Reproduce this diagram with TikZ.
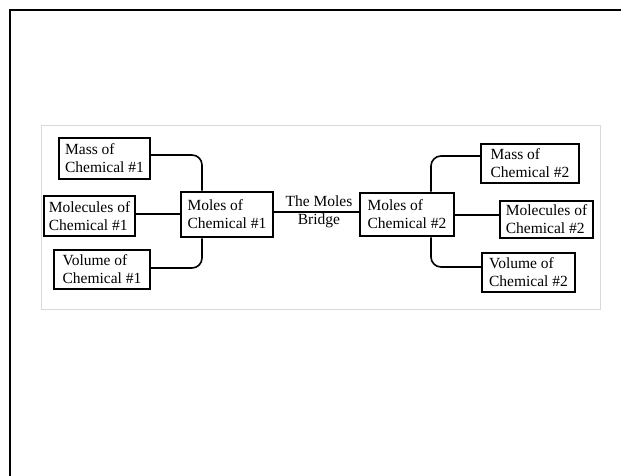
\documentclass[tikz,border=0pt]{standalone}
\usepackage{fontspec}
\setmainfont{Liberation Serif}
\usepackage{tikz}
\usetikzlibrary{positioning,calc}
\usepackage{xcolor}
\definecolor{framegray}{HTML}{D9D9D9}

\begin{document}
\begin{tikzpicture}[
  x=1pt, y=-1pt,
  every node/.style={align=left, font=\fontsize{15.5}{18}\selectfont, inner sep=0pt},
  box/.style={draw, line width=1.5pt},
  molebox/.style={draw, line width=2.8pt},
  link/.style={line width=1.6pt},
  bridgelink/.style={line width=2.8pt},
]
  \useasboundingbox (0,0) rectangle (621,476);

  % Frame
  \draw[line width=2pt] (10,476) -- (10,10) -- (621,10);
  \draw[framegray, line width=0.8pt] (41,125) rectangle (600,309);

  % Chemical #1 (Left)
  \node[box, minimum width=91pt, minimum height=41pt] (mass1) at (104.5,158.5) {Mass of\\Chemical \#1};
  \node[box, minimum width=91pt, minimum height=40pt] (mol1) at (89.5,216) {Molecules of\\Chemical \#1};
  \node[box, minimum width=96pt, minimum height=39pt] (vol1) at (102,269.5) {Volume of\\Chemical \#1};
  \node[molebox, minimum width=92pt, minimum height=45pt] (moles1) at (227,214.5) {Moles of\\Chemical \#1};

  % Chemical #2 (Right)
  \node[molebox, minimum width=94pt, minimum height=43pt] (moles2) at (407,214.5) {Moles of\\Chemical \#2};
  \node[box, minimum width=98pt, minimum height=39pt] (mass2) at (530,163.5) {Mass of\\Chemical \#2};
  \node[box, minimum width=93pt, minimum height=37pt] (mol2) at (546.5,219.5) {Molecules of\\Chemical \#2};
  \node[box, minimum width=93pt, minimum height=39pt] (vol2) at (528.5,272.5) {Volume of\\Chemical \#2};

  % Bridge
  \draw[bridgelink] (moles1.east |- 0,212) -- (moles2.west |- 0,212);
  \node[align=center] (bridge) at (319,212) {The Moles\\Bridge};

  % Edges
  \draw[link, rounded corners=10pt] (mass1.east |- 0,155) -| ([xshift=-25pt]moles1.north);
  \draw[link] (mol1.east |- 0,214) -- (moles1.west |- 0,214);
  \draw[link, rounded corners=10pt] (vol1.east |- 0,268) -| ([xshift=-25pt]moles1.south);
  \draw[link, rounded corners=10pt] ([xshift=24pt]moles2.north) |- (mass2.west |- 0,156);
  \draw[link] (moles2.east |- 0,215) -- (mol2.west |- 0,215);
  \draw[link, rounded corners=10pt] ([xshift=24pt]moles2.south) |- (vol2.west |- 0,267);
\end{tikzpicture}
\end{document}
